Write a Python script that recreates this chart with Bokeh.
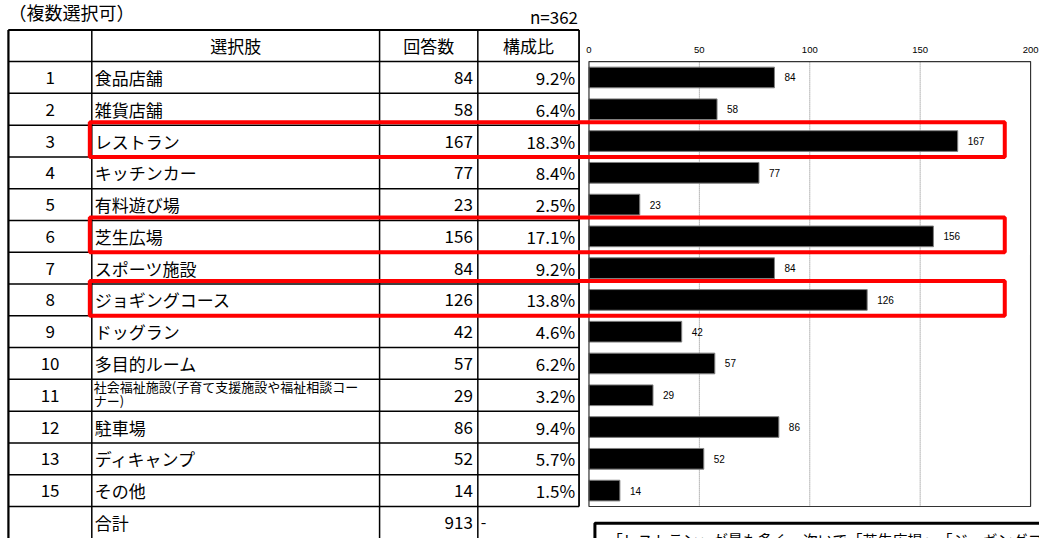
from bokeh.plotting import figure
from bokeh.models import Range1d
from bokeh.core.properties import value
from bokeh.embed import file_html
from bokeh.resources import INLINE

# ---------------- data ----------------
numbers = ["1", "2", "3", "4", "5", "6", "7", "8", "9", "10", "11", "12", "13", "15"]
choices = ["食品店舗", "雑貨店舗", "レストラン", "キッチンカー", "有料遊び場", "芝生広場",
           "スポーツ施設", "ジョギングコース", "ドッグラン", "多目的ルーム",
           "社会福祉施設(子育て支援施設や福祉相談コー\nナー)", "駐車場", "ディキャンプ", "その他"]
counts = [84, 58, 167, 77, 23, 156, 84, 126, 42, 57, 29, 86, 52, 14]
ratios = ["9.2%", "6.4%", "18.3%", "8.4%", "2.5%", "17.1%", "9.2%", "13.8%",
          "4.6%", "6.2%", "3.2%", "9.4%", "5.7%", "1.5%"]
highlight = ["レストラン", "芝生広場", "ジョギングコース"]
headers = ["選択肢", "回答数", "構成比"]
total_label = "合計"
total_count = 913
total_ratio = "-"
note_left = "（複数選択可）"
note_right = "n=362"
x_ticks = [0, 50, 100, 150, 200]
comment = "「レストラン」が最も多く、次いで「芝生広場」、「ジョギングコース」となっている。"

# ---------------- layout (reference pixels) ----------------
W, H = 1039, 538          # figure size on the page
REF_W, REF_H = 1047, 546  # coordinate space of the layout
COLS = [8, 92, 382, 481, 583]
HEAD_T, HEAD_B = 30, 62
ROW_H = 32.25
PLOT_L, PLOT_R = 593, 1038
PLOT_T = HEAD_B
n = len(counts)
PLOT_B = PLOT_T + n * ROW_H
BAR_H = 21
JP = value("Noto Sans CJK JP")
NUM = value("Liberation Sans")

p = figure(width=W, height=H, x_range=Range1d(0, REF_W), y_range=Range1d(REF_H, 0),
           x_axis_location=None, y_axis_location=None, toolbar_location=None,
           output_backend="svg", min_border=0)
p.outline_line_color = None
p.grid.visible = False
p.background_fill_color = "white"
p.border_fill_color = "white"

scale = (PLOT_R - PLOT_L) / x_ticks[-1]
p.extra_x_ranges = {"bar": Range1d(-PLOT_L / scale, x_ticks[-1] + (REF_W - PLOT_R) / scale)}

row_top = [PLOT_T + i * ROW_H for i in range(n)]
row_mid = [t + ROW_H / 2 for t in row_top]
total_top = PLOT_T + n * ROW_H
total_mid = total_top + ROW_H / 2

# ---------------- table lines ----------------
hy = [HEAD_T, HEAD_B] + [t + ROW_H for t in row_top]
p.segment(x0=[COLS[0]] * len(hy), x1=[COLS[-1]] * len(hy), y0=hy, y1=hy,
          line_color="black", line_width=1.5)
p.segment(x0=COLS[:4], x1=COLS[:4], y0=[HEAD_T] * 4, y1=[REF_H] * 4,
          line_color="black", line_width=1.5)
p.segment(x0=[COLS[0]], x1=[COLS[0]], y0=[HEAD_T], y1=[REF_H], line_color="black", line_width=2)
p.segment(x0=[COLS[4]], x1=[COLS[4]], y0=[HEAD_T], y1=[total_top],
          line_color="black", line_width=1.8)
p.segment(x0=[COLS[0]], x1=[COLS[-1]], y0=[HEAD_T], y1=[HEAD_T], line_color="black", line_width=2)

# ---------------- table texts ----------------
p.text(x=[COLS[0]], y=[12], text=[note_left], text_font=JP, text_font_size="18px",
       text_align="left", text_baseline="middle", text_color="black")
p.text(x=[COLS[-1] - 1], y=[16], text=[note_right], text_font=JP, text_font_size="17px",
       text_align="right", text_baseline="middle", text_color="black")
hx = [(COLS[1] + COLS[2]) / 2, (COLS[2] + COLS[3]) / 2, (COLS[3] + COLS[4]) / 2]
p.text(x=hx, y=[(HEAD_T + HEAD_B) / 2] * 3, text=headers, text_font=JP, text_font_size="17px",
       text_align="center", text_baseline="middle", text_color="black")
p.text(x=[(COLS[0] + COLS[1]) / 2] * n, y=row_mid, text=numbers, text_font=JP,
       text_font_size="17px", text_align="center", text_baseline="middle", text_color="black")

big_x, big_y, big_t = [], [], []
small_x, small_y, small_t = [], [], []
for i, c in enumerate(choices):
    if "\n" in c:
        for k, ln in enumerate(c.split("\n")):
            small_x.append(COLS[1] + 2)
            small_y.append(row_top[i] + 7.5 + k * 14)
            small_t.append(ln)
    else:
        big_x.append(COLS[1] + 3)
        big_y.append(row_mid[i])
        big_t.append(c)
big_x.append(COLS[1] + 3); big_y.append(total_mid); big_t.append(total_label)
p.text(x=big_x, y=big_y, text=big_t, text_font=JP, text_font_size="17px",
       text_align="left", text_baseline="middle", text_color="black")
p.text(x=small_x, y=small_y, text=small_t, text_font=JP, text_font_size="13px",
       text_align="left", text_baseline="middle", text_color="black")
p.text(x=[COLS[3] - 5] * (n + 1), y=row_mid + [total_mid],
       text=[str(c) for c in counts] + [str(total_count)],
       text_font=JP, text_font_size="17px", text_align="right", text_baseline="middle",
       text_color="black")
p.text(x=[COLS[4] - 4] * n, y=row_mid, text=ratios, text_font=JP, text_font_size="17px",
       text_align="right", text_baseline="middle", text_color="black")
p.text(x=[COLS[3] + 3], y=[total_mid], text=[total_ratio], text_font=JP, text_font_size="16px",
       text_align="left", text_baseline="middle", text_color="black")

# ---------------- bar chart ----------------
p.segment(x0=x_ticks[1:-1], x1=x_ticks[1:-1], y0=[PLOT_T] * 3, y1=[PLOT_B] * 3,
          x_range_name="bar", line_color="#808080", line_width=1, line_dash="1 1")
p.hbar(y=row_mid, left=0, right=counts, height=BAR_H, x_range_name="bar",
       fill_color="black", line_color="#808080", line_width=1)
p.quad(left=[x_ticks[0]], right=[x_ticks[-1]], top=[PLOT_T], bottom=[PLOT_B], x_range_name="bar",
       fill_color=None, line_color="#333333", line_width=1.2)
p.text(x=counts, y=row_mid, text=[str(c) for c in counts], x_range_name="bar", x_offset=10,
       text_font=NUM, text_font_size="10px", text_align="left", text_baseline="middle",
       text_color="black")
p.text(x=x_ticks, y=[PLOT_T - 12] * len(x_ticks), text=[str(t) for t in x_ticks], x_range_name="bar",
       text_font=NUM, text_font_size="9.5px", text_align="center", text_baseline="middle",
       text_color="black")

# ---------------- highlight boxes ----------------
hi = [choices.index(h) for h in highlight]
p.quad(left=[COLS[1] - 2] * len(hi), right=[1012] * len(hi),
       top=[row_top[i] - 3 for i in hi], bottom=[row_top[i] + ROW_H for i in hi],
       fill_color=None, line_color="#ff0000", line_width=4)

# ---------------- comment box ----------------
p.quad(left=[599], right=[1070], top=[530.5], bottom=[580], fill_color="white",
       line_color="black", line_width=3)
p.text(x=[612], y=[536], text=[comment], text_font=JP, text_font_size="15px",
       text_align="left", text_baseline="top", text_color="black")

open("out.html", "w").write(file_html(p, INLINE))
